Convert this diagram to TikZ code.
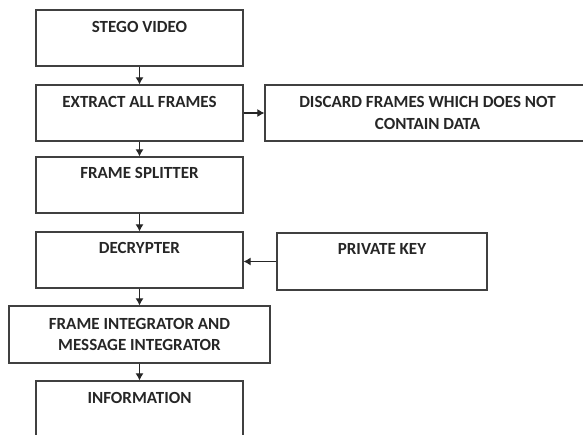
\documentclass[tikz,border=0pt]{standalone}
\usepackage{fontspec}
\setmainfont{Carlito}
\usepackage{tikz}
\usetikzlibrary{arrows.meta,positioning}
\definecolor{ink}{HTML}{262626}
\definecolor{boxline}{HTML}{404040}

\begin{document}
\begin{tikzpicture}[x=1pt,y=1pt,font=\fontsize{17}{21.5}\selectfont\bfseries,
  blk/.style={draw=boxline,line width=1.2pt,minimum width=207pt,minimum height=56pt,inner sep=0pt},
  txt/.style={text=ink,inner sep=0pt,align=center},
  w/.style={-{Latex[length=7pt,width=8pt]},draw=ink,line width=1.1pt}]

  \useasboundingbox (0,0) rectangle (583,-434);

  % main chain
  \node[blk] (stego)     at (139.5,-38)  {};
  \node[blk] (extract)   at (139.5,-113) {};
  \node[blk] (splitter)  at (139.5,-185) {};
  \node[blk] (decrypter) at (139.5,-260) {};
  \node[blk,minimum width=261pt,minimum height=57pt,txt] (integ) at (139.5,-334.5)
    {FRAME INTEGRATOR AND\\MESSAGE INTEGRATOR};
  \node[blk] (info)      at (139.5,-409) {};

  % side boxes
  \node[blk,minimum width=325pt,txt] (discard) at (427.5,-113)
    {DISCARD FRAMES WHICH DOES NOT\\CONTAIN DATA};
  \node[blk,minimum width=210pt,minimum height=57pt] (privkey) at (382,-261.5) {};

  % labels near the top of the boxes
  \node[txt,below=12pt of stego.north]     (stegotxt)   {STEGO VIDEO};
  \node[txt,below=12pt of extract.north]   (extracttxt) {EXTRACT ALL FRAMES};
  \node[txt,below=11pt of splitter.north]  (splittxt)   {FRAME SPLITTER};
  \node[txt,below=11pt of decrypter.north] (decrtxt)    {DECRYPTER};
  \node[txt,below=11pt of privkey.north]   (keytxt)     {PRIVATE KEY};
  \node[txt,below=12pt of info.north]      (infotxt)    {INFORMATION};

  \draw[w] (stego) -- (extract);
  \draw[w] (extract) -- (splitter);
  \draw[w] (splitter) -- (decrypter);
  \draw[w] (decrypter) -- (integ);
  \draw[w] (integ) -- (info);
  \draw[w] (extract) -- (discard);
  \draw[w] (privkey.west) -- (privkey.west-|decrypter.east);
\end{tikzpicture}
\end{document}
